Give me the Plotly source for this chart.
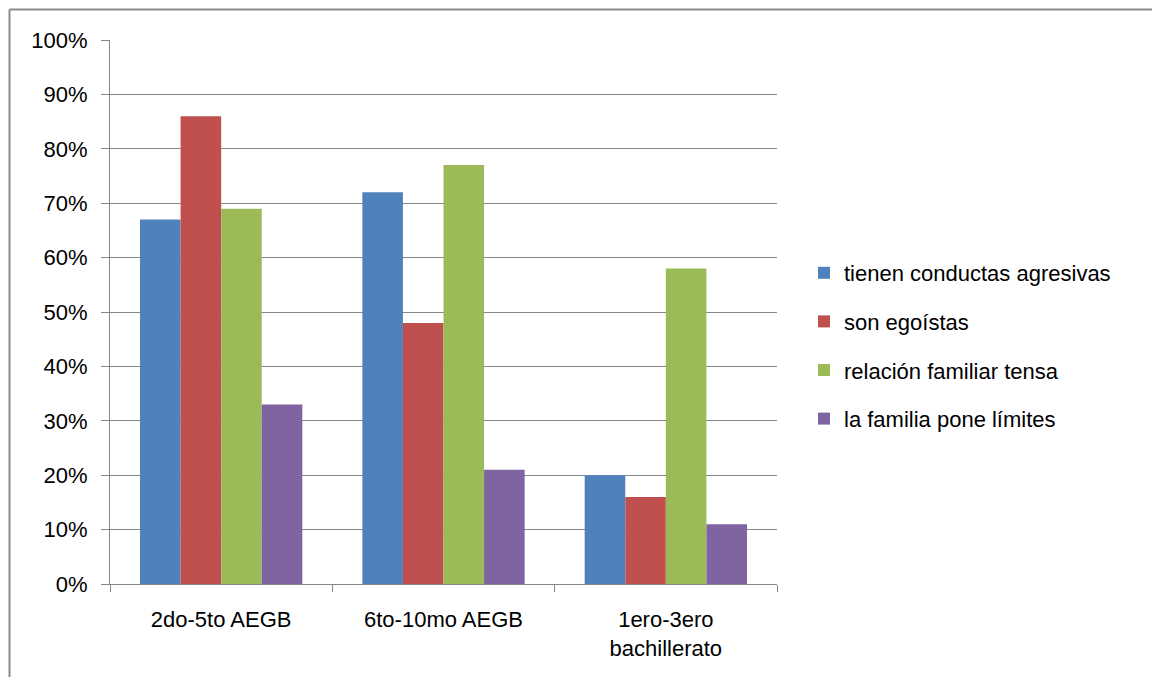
import plotly.graph_objects as go

categories = ["2do-5to AEGB", "6to-10mo AEGB", "1ero-3ero<br>bachillerato"]
series_names = ["tienen conductas agresivas", "son egoístas",
                "relación familiar tensa", "la familia pone límites"]
values = [
    [0.67, 0.72, 0.20],
    [0.86, 0.48, 0.16],
    [0.69, 0.77, 0.58],
    [0.33, 0.21, 0.11],
]
colors = ["#4F81BD", "#C0504D", "#9BBB59", "#8064A2"]
y_ticks = [0, 0.1, 0.2, 0.3, 0.4, 0.5, 0.6, 0.7, 0.8, 0.9, 1.0]

FONT = "Liberation Sans"
FS = 22
OFF = 8  # page body margin

fig = go.Figure()
for i, (name, vals, col) in enumerate(zip(series_names, values, colors)):
    fig.add_trace(go.Bar(x=categories, y=vals, name=name, legendgroup=f"g{i}",
                         marker=dict(color=col, line=dict(width=0))))

W, H = 1160 - OFF, 677 - OFF
L, R, T, B = 110 - OFF, 777 - OFF, 40 - OFF, 584 - OFF

fig.update_layout(
    width=W, height=H,
    margin=dict(l=L, r=W - R, t=T, b=H - B, autoexpand=False),
    paper_bgcolor="white", plot_bgcolor="white",
    barmode="group", bargap=0.27, bargroupgap=0,
    font=dict(family=FONT, size=FS, color="#000000"),
    showlegend=True,
    legend=dict(x=(804 - OFF - L) / (R - L), y=(B - (252 - OFF)) / (B - T),
                xanchor="left", yanchor="top", traceorder="grouped",
                font=dict(family=FONT, size=FS, color="#000000"),
                tracegroupgap=17, itemwidth=30, bgcolor="rgba(0,0,0,0)"),
)
fig.update_xaxes(
    showline=True, linecolor="#868686", linewidth=1,
    ticks="outside", ticklen=7, tickcolor="#868686", tickson="boundaries",
    tickfont=dict(family=FONT, size=FS, color="#000000"),
    ticklabelstandoff=16,
    showgrid=False,
)
fig.update_yaxes(
    range=[0, 1], tickvals=y_ticks, tickformat=".0%",
    showline=True, linecolor="#868686", linewidth=1,
    ticks="outside", ticklen=8, tickcolor="#868686",
    ticklabelstandoff=9,
    showgrid=True, gridcolor="#868686", gridwidth=1,
    tickfont=dict(family=FONT, size=FS, color="#000000"),
    zeroline=False,
)
# outer chart-area frame (Excel chart border)
px0 = 9.5 - OFF
fx0 = (px0 - L) / (R - L)
fy0 = (B - px0) / (B - T)
fig.add_shape(type="line", xref="paper", yref="paper", x0=fx0, x1=(W + 5 - L) / (R - L), y0=fy0, y1=fy0,
              line=dict(color="#8a8a8a", width=2))
fig.add_shape(type="line", xref="paper", yref="paper", x0=fx0, x1=fx0, y0=fy0, y1=(B - H - 5) / (B - T),
              line=dict(color="#8a8a8a", width=2))

fig.write_html("out.html")
